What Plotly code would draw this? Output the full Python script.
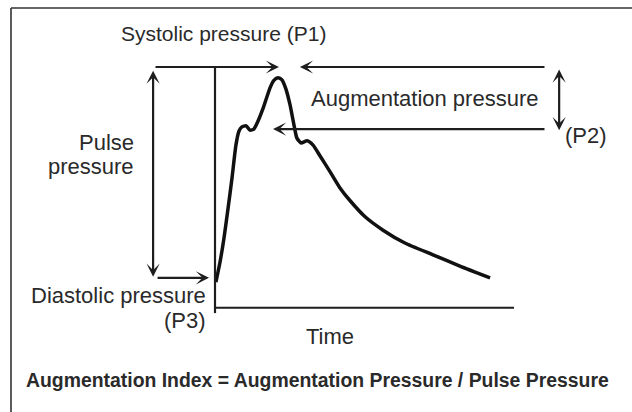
import plotly.graph_objects as go

# ---- data (time in arbitrary units, pressure in mmHg-like units) ----
time = [0.3, 1.7, 3.0, 4.3, 5.7, 7.0, 8.0, 9.0, 10.4, 11.7, 13.0, 14.4, 16.1,
        18.4, 19.7, 21.1, 22.4, 23.7, 25.1, 26.4, 27.4, 28.8, 30.8, 32.8, 35.1, 38.5,
        41.8, 45.2, 50.2, 56.2, 63.5, 72.9, 81.9, 92.0]
pressure = [79.8, 83.6, 88.0, 93.3, 99.3, 105.4, 108.0, 108.8, 109.0, 108.2, 108.4,
            109.9, 112.3, 116.1, 117.5, 118.0, 117.6, 115.9, 112.9, 109.2, 106.7,
            105.8, 106.2, 105.4, 103.4, 100.4, 97.4, 95.0, 92.0, 89.5, 87.1, 84.9,
            82.8, 80.6]

P1 = 120.0   # systolic
P2 = 108.4   # augmentation point
P3 = 80.6    # diastolic

labels = {
    "sys": "Systolic pressure (P1)",
    "aug": "Augmentation pressure",
    "p2": "(P2)",
    "pulse1": "Pulse",
    "pulse2": "pressure",
    "dia": "Diastolic pressure",
    "p3": "(P3)",
    "time": "Time",
    "eq": "Augmentation Index = Augmentation Pressure / Pulse Pressure",
}

W, H = 632, 412
INK = "#1e1e1e"
TXT = "#2a2a2a"
FONT = "Liberation Sans, Arial, sans-serif"


def px(x):
    return x / W


def py(y):
    return 1 - y / H


fig = go.Figure()
fig.add_trace(go.Scatter(x=time, y=pressure, mode="lines",
                         line=dict(color="#111111", width=3.5, shape="spline", smoothing=0.6),
                         hoverinfo="skip", showlegend=False))

shapes = [
    # outer frame (top and left)
    dict(type="line", xref="paper", yref="paper", x0=px(11), x1=px(632), y0=py(8), y1=py(8),
         line=dict(color="#333", width=1.6)),
    dict(type="line", xref="paper", yref="paper", x0=px(11), x1=px(11), y0=py(8), y1=py(412),
         line=dict(color="#333", width=1.6)),
    # axes
    dict(type="line", xref="x", yref="y", x0=0, x1=0, y0=74.0, y1=P1,
         line=dict(color=INK, width=2.2)),
    dict(type="line", xref="x", yref="y", x0=0, x1=100, y0=75.0, y1=75.0,
         line=dict(color=INK, width=2.2)),
]

annotations = []


def arrow(x, y, ax, ay, both=False):
    annotations.append(dict(x=x, y=y, ax=ax, ay=ay, xref="x", yref="y", axref="x", ayref="y",
                            text="", showarrow=True, arrowhead=3, startarrowhead=3,
                            arrowsize=1.0, startarrowsize=1.0, arrowwidth=2.2,
                            arrowcolor=INK, arrowside="end+start" if both else "end",
                            standoff=0, startstandoff=0))


arrow(21.4, P1, -20.4, P1)          # systolic left
arrow(28.4, P1, 110.7, P1)          # systolic right
arrow(19.4, P2, 110.7, P2)          # P2 arrow
arrow(-2.0, P3, -19.7, P3)          # diastolic
arrow(-20.7, 80.8, -20.7, 119.6, both=True)   # pulse pressure
arrow(115.1, 108.2, 115.1, 119.8, both=True)  # augmentation pressure


def text(key, x, y, xanchor="center", bold=False, size=22):
    t = labels[key]
    if bold:
        t = "<b>" + t + "</b>"
    annotations.append(dict(x=px(x), y=py(y), xref="paper", yref="paper", text=t,
                            showarrow=False, xanchor=xanchor, yanchor="middle",
                            font=dict(family=FONT, size=size, color=TXT)))


text("sys", 223.5, 34, size=21)
text("aug", 424, 98)
text("p2", 586, 135)
text("pulse1", 136, 143, xanchor="right")
text("pulse2", 136, 167, xanchor="right")
text("dia", 208, 295, xanchor="right")
text("p3", 208, 320, xanchor="right")
text("time", 330, 336)
text("eq", 317, 380, bold=True, size=19.4)

fig.update_layout(
    width=W, height=H, margin=dict(l=0, r=0, t=0, b=0),
    paper_bgcolor="white", plot_bgcolor="white",
    xaxis=dict(range=[-71.906, 139.465], visible=False, fixedrange=True),
    yaxis=dict(range=[55.514, 132.523], visible=False, fixedrange=True),
    shapes=shapes, annotations=annotations, showlegend=False,
)
fig.write_html("out.html", config={"displayModeBar": False},
               post_script="document.body.style.margin='0px';")
